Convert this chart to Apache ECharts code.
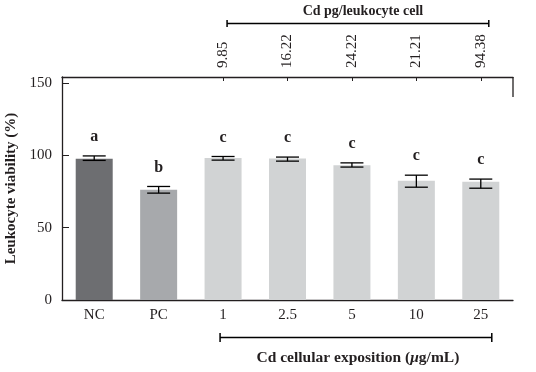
<!DOCTYPE html>
<html>
<head>
<meta charset="utf-8">
<script src="https://cdn.jsdelivr.net/npm/echarts@6/dist/echarts.min.js"></script>
<style>
html,body{margin:0;padding:0;background:#fff;}
#chart{width:536px;height:372px;}
</style>
</head>
<body>
<div id="chart"></div>
<script>
// ---- data ----
const categories = ['NC', 'PC', '1', '2.5', '5', '10', '25'];
const viability = [97.5, 76.1, 98.0, 97.8, 93.1, 82.3, 81.6];
const errLow = [96.4, 73.8, 96.6, 95.9, 91.8, 77.9, 77.2];
const errHigh = [99.5, 78.4, 99.1, 98.7, 94.7, 86.2, 83.5];
const letters = ['a', 'b', 'c', 'c', 'c', 'c', 'c'];
const cdPerCell = ['', '', '9.85', '16.22', '24.22', '21.21', '94.38'];
const yTicks = [0, 50, 100, 150];
const topTitle = 'Cd pg/leukocyte cell';
const bottomTitle = 'Cd cellular exposition (';
const yName = 'Leukocyte viability (%)';

// ---- styles ----
const barColors = ['#6d6e71', '#a7a9ac', '#d1d3d4', '#d1d3d4', '#d1d3d4', '#d1d3d4', '#d1d3d4'];
const ink = '#231f20';
const serif = '"Liberation Serif", "DejaVu Serif", serif';
const yMax = 154;

const chart = echarts.init(document.getElementById('chart'), null, {renderer: 'canvas'});

const option = {
  animation: false,
  backgroundColor: '#fff',
  grid: {left: 62, right: 23, top: 77, bottom: 72, containLabel: false, outerBoundsMode: 'none'},
  xAxis: [
    {
      type: 'category',
      data: categories,
      position: 'bottom',
      axisLine: {show: true, lineStyle: {color: ink, width: 1.3}},
      axisTick: {show: true, inside: true, length: 4, alignWithLabel: true, lineStyle: {color: ink}},
      axisLabel: {color: ink, fontFamily: serif, fontSize: 15, margin: 8, interval: 0}
    },
    {
      type: 'category',
      data: cdPerCell,
      position: 'top',
      axisLine: {show: true, lineStyle: {color: ink, width: 1.3}},
      axisTick: {show: true, inside: true, length: 4, alignWithLabel: true,
                 interval: function (idx) { return idx >= 2; }, lineStyle: {color: ink}},
      axisLabel: {color: ink, fontFamily: serif, fontSize: 15, margin: 9, rotate: -90, interval: 0}
    }
  ],
  yAxis: {
    type: 'value',
    min: yTicks[0],
    max: yMax,
    interval: yTicks[1] - yTicks[0],
    name: yName,
    nameLocation: 'middle',
    nameGap: 43,
    nameTextStyle: {color: ink, fontFamily: serif, fontSize: 15, fontWeight: 'bold'},
    splitLine: {show: false},
    axisLine: {show: true, lineStyle: {color: ink, width: 1.3}},
    axisTick: {show: true, inside: true, length: 7, lineStyle: {color: ink}},
    axisLabel: {color: ink, fontFamily: serif, fontSize: 15, margin: 10, showMaxLabel: false}
  },
  series: [
    {
      type: 'bar',
      xAxisIndex: 0,
      barWidth: 37,
      z: 2,
      data: viability.map((v, i) => ({value: v, itemStyle: {color: barColors[i]}}))
    },
    {
      type: 'custom',
      xAxisIndex: 0,
      clip: false,
      z: 5,
      data: categories.map((c, i) => [i, errLow[i], errHigh[i], letters[i]]),
      renderItem: function (params, api) {
        const lo = api.coord([api.value(0), api.value(1)]);
        const hi = api.coord([api.value(0), api.value(2)]);
        const half = 11.5;
        const st = {stroke: '#000', lineWidth: 1.3};
        return {
          type: 'group',
          children: [
            {type: 'line', shape: {x1: hi[0], y1: hi[1], x2: lo[0], y2: lo[1]}, style: st},
            {type: 'line', shape: {x1: hi[0] - half, y1: hi[1], x2: hi[0] + half, y2: hi[1]}, style: st},
            {type: 'line', shape: {x1: lo[0] - half, y1: lo[1], x2: lo[0] + half, y2: lo[1]}, style: st},
            {type: 'text', x: hi[0], y: hi[1] - 19,
             style: {text: letters[params.dataIndex], fill: ink, font: 'bold 16px ' + serif,
                     align: 'center', verticalAlign: 'middle'}}
          ]
        };
      }
    },
    {
      type: 'custom',
      xAxisIndex: 0,
      clip: false,
      silent: true,
      z: 5,
      data: [[2, 6]],
      renderItem: function (params, api) {
        const cs = params.coordSys;
        const a = api.coord([api.value(0), 0]);
        const b = api.coord([api.value(1), 0]);
        const st = {stroke: '#000', lineWidth: 1.5};
        const bottom = cs.y + cs.height;
        const top = cs.y;
        // bottom bracket
        const by = bottom + 37.5;
        const bx1 = a[0] - 3, bx2 = b[0] + 11;
        // top bracket
        const ty = top - 53.5;
        const tx1 = a[0] + 4, tx2 = b[0] + 8;
        const right = cs.x + cs.width;
        return {
          type: 'group',
          children: [
            {type: 'line', shape: {x1: bx1, y1: by, x2: bx2, y2: by}, style: st},
            {type: 'line', shape: {x1: bx1, y1: by - 4.5, x2: bx1, y2: by + 4.5}, style: st},
            {type: 'line', shape: {x1: bx2, y1: by - 4.5, x2: bx2, y2: by + 4.5}, style: st},
            {type: 'text', x: (bx1 + bx2) / 2 + 2, y: by + 20,
             style: {
               text: '{b|' + bottomTitle + '}{i|μ}{b|g/mL)}',
               align: 'center', verticalAlign: 'middle',
               rich: {
                 b: {fontFamily: serif, fontSize: 15.5, fontWeight: 'bold', fill: ink, color: ink},
                 i: {fontFamily: serif, fontSize: 15.5, fontWeight: 'bold', fontStyle: 'italic', fill: ink, color: ink}
               }
             }},
            {type: 'line', shape: {x1: tx1, y1: ty, x2: tx2, y2: ty}, style: st},
            {type: 'line', shape: {x1: tx1, y1: ty - 3.5, x2: tx1, y2: ty + 3.5}, style: st},
            {type: 'line', shape: {x1: tx2, y1: ty - 3.5, x2: tx2, y2: ty + 3.5}, style: st},
            {type: 'text', x: (tx1 + tx2) / 2 + 5, y: ty - 12,
             style: {text: topTitle, fill: ink, font: 'bold 14px ' + serif,
                     align: 'center', verticalAlign: 'middle'}},
            {type: 'line', shape: {x1: right, y1: top, x2: right, y2: top + 20}, style: {stroke: ink, lineWidth: 1.3}}
          ]
        };
      }
    }
  ]
};
chart.setOption(option);
</script>
</body>
</html>
